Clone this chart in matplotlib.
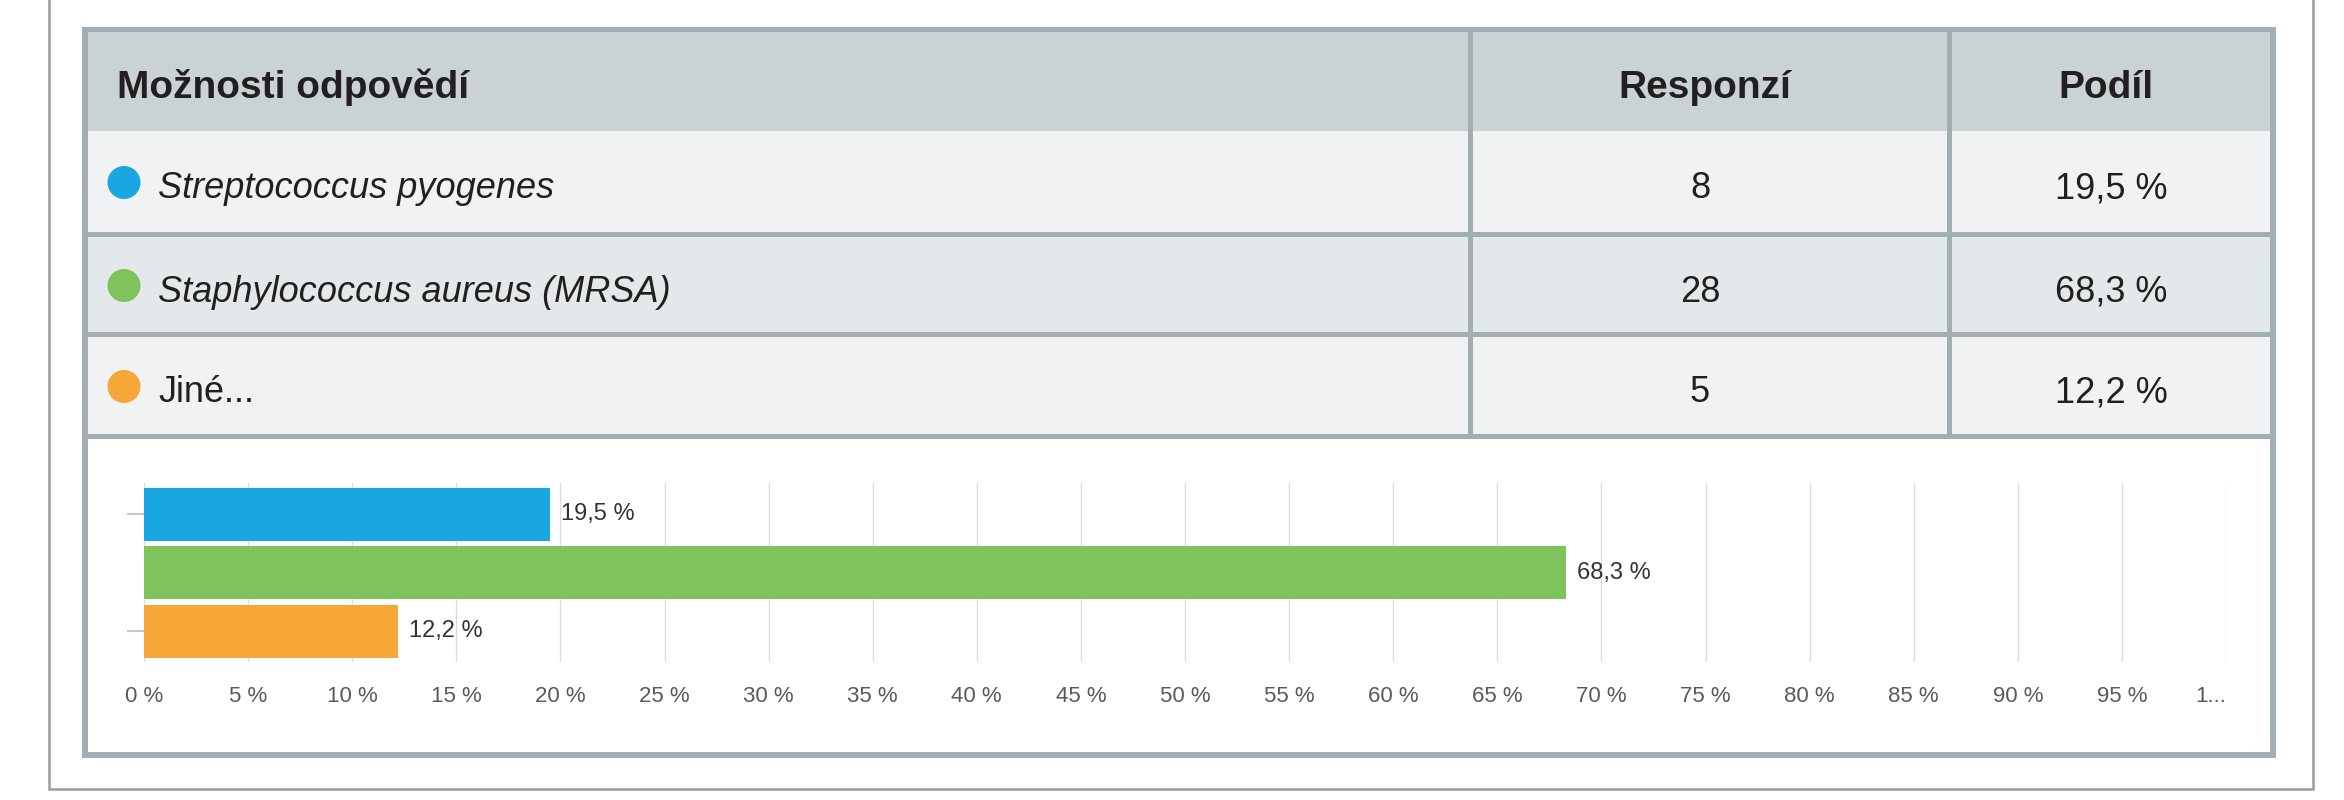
import matplotlib
matplotlib.use('Agg')
import matplotlib.pyplot as plt
from matplotlib.patches import Rectangle, Ellipse

plt.rcParams['font.family'] = ['Liberation Sans', 'DejaVu Sans']

# data
options = ['Streptococcus pyogenes', 'Staphylococcus aureus (MRSA)', 'Jiné...']
italic_opt = [True, True, False]
responses = [8, 28, 5]
shares = [19.5, 68.3, 12.2]
colors = ['#1aa7e1', '#7fc35d', '#f7a738']
headers = ['Možnosti odpovědí', 'Responzí', 'Podíl']
tick_vals = list(range(0, 101, 5))
tick_labels = ['0 %', '5 %', '10 %', '15 %', '20 %', '25 %', '30 %', '35 %', '40 %', '45 %',
               '50 %', '55 %', '60 %', '65 %', '70 %', '75 %', '80 %', '85 %', '90 %', '95 %', '1...']


def pct(v):
    return f'{v:.1f}'.replace('.', ',') + ' %'


W, H = 2344, 800
fig = plt.figure(figsize=(W / 100, H / 100), dpi=100)
fig.patch.set_facecolor('white')

bg = fig.add_axes([0, 0, 1, 1])
bg.set_xlim(0, W)
bg.set_ylim(H, 0)
bg.axis('off')

border = '#a2afb2'
txt = '#231f20'

# outer thin frame (top is cut off)
bg.plot([49, 49, 2313, 2313], [0, 789, 789, 0], color='#9c9c9c', lw=1.8, solid_joinstyle='miter')

# table block: border colour underneath, cells on top
bg.add_patch(Rectangle((82, 27), 2276 - 82, 758 - 27, color=border, lw=0))

col_edges = [(88, 1468), (1473, 1947), (1952, 2270)]
row_edges = [(32, 131), (131, 232), (237, 332), (337, 434)]
row_bg = ['#c9d3d6', '#f1f2f3', '#e3e8ea', '#f1f2f3']
for (y0, y1), c in zip(row_edges, row_bg):
    for x0, x1 in col_edges:
        bg.add_patch(Rectangle((x0, y0), x1 - x0, y1 - y0, color=c, lw=0))
# chart area
bg.add_patch(Rectangle((88, 439), 2270 - 88, 752 - 439, color='white', lw=0))

# header texts
bg.text(117, 98, headers[0], fontsize=28, fontweight='bold', color=txt, va='baseline', ha='left')
for (x0, x1), h in zip(col_edges[1:], headers[1:]):
    bg.text((x0 + x1) / 2 - 5, 98, h, fontsize=28, fontweight='bold', color=txt,
            va='baseline', ha='center')

# body rows
for i, (y0, y1) in enumerate(row_edges[1:]):
    yc = (y0 + y1) / 2
    bg.add_patch(Ellipse((124, yc + 1), 33, 33, color=colors[i], lw=0))
    bg.text(158, yc + 17, options[i], fontsize=26, color=txt, va='baseline', ha='left',
            style='italic' if italic_opt[i] else 'normal')
    bg.text(sum(col_edges[1]) / 2 - 10, yc + 17, str(responses[i]), fontsize=26, color=txt,
            va='baseline', ha='center')
    bg.text(sum(col_edges[2]) / 2, yc + 17, pct(shares[i]), fontsize=26, color=txt,
            va='baseline', ha='center')

# bar chart
x0px, x1px, ytop, ybot = 144, 2226, 483, 662
ax = fig.add_axes([x0px / W, 1 - ybot / H, (x1px - x0px) / W, (ybot - ytop) / H])
ax.patch.set_alpha(0)
ypos = list(range(len(shares)))
bars = ax.barh(ypos, shares, height=0.9, color=colors, zorder=3)
ax.bar_label(bars, labels=[pct(v) for v in shares], padding=8, fontsize=17, color='#333333')
ax.set_xlim(0, 100)
ax.set_ylim(2.52, -0.53)
ax.set_xticks(tick_vals)
ax.set_xticklabels(tick_labels)
ax.get_xticklabels()[-1].set_horizontalalignment('right')
ax.set_yticks([0, 2])
ax.set_yticklabels(['', ''])
ax.tick_params(axis='x', length=0, pad=17, labelsize=16, labelcolor='#5a5a5a')
ax.tick_params(axis='y', length=12, width=1.5, color='#c8c8c8', pad=2)
ax.grid(axis='x', color='#dcdcdc', lw=1.0, zorder=0)
ax.set_axisbelow(True)
for s in ax.spines.values():
    s.set_visible(False)

fig.savefig('out.png', dpi=100)
